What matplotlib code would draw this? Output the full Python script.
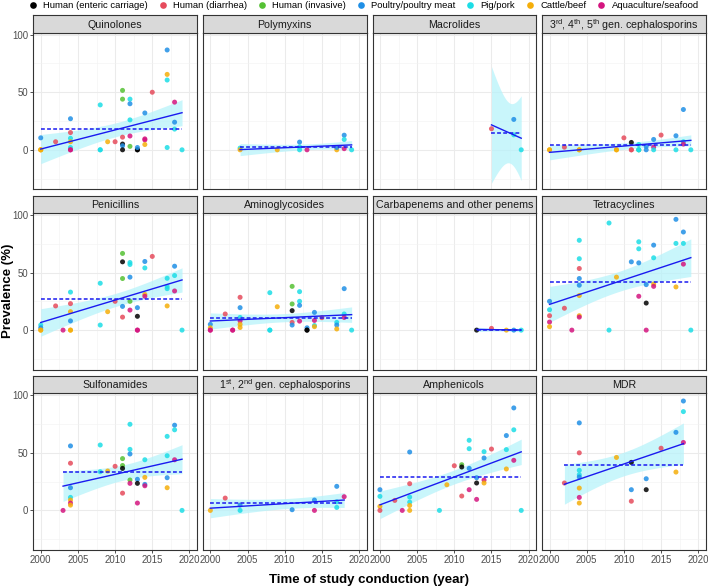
import math
import numpy as np
import matplotlib
matplotlib.use("Agg")
import matplotlib.pyplot as plt
from matplotlib.lines import Line2D

plt.rcParams['font.family'] = ['Liberation Sans', 'DejaVu Sans']
plt.rcParams['mathtext.fontset'] = 'custom'
plt.rcParams['mathtext.rm'] = 'Liberation Sans'

# source groups: E enteric carriage, D diarrhea, I invasive, P poultry, G pig, C cattle, A aquaculture
group_keys = ['E', 'D', 'I', 'P', 'G', 'C', 'A']
group_labels = ['Human (enteric carriage)', 'Human (diarrhea)', 'Human (invasive)',
                'Poultry/poultry meat', 'Pig/pork', 'Cattle/beef', 'Aquaculture/seafood']
group_colors = ['#000000', '#E64B5C', '#55C134', '#1F8FE6', '#1CDDE6', '#F5AE0A', '#D4157F']

panel_titles = ['Quinolones', 'Polymyxins', 'Macrolides',
                r'3$^{\mathrm{rd}}$, 4$^{\mathrm{th}}$, 5$^{\mathrm{th}}$ gen. cephalosporins',
                'Penicillins', 'Aminoglycosides', 'Carbapenems and other penems', 'Tetracyclines',
                'Sulfonamides', r'1$^{\mathrm{st}}$, 2$^{\mathrm{nd}}$ gen. cephalosporins',
                'Amphenicols', 'MDR']

# several studies sit on top of each other at 0 %, so some zeros repeat
quin_year = [2000, 2000, 2000, 2000, 2002, 2004, 2004, 2004, 2004, 2004, 2004, 2004, 2008, 2008, 2008,
             2009, 2010, 2011, 2011, 2011, 2011, 2011, 2011, 2012, 2012, 2012, 2012, 2012, 2013, 2013, 2013,
             2014, 2014, 2014, 2014, 2015, 2017, 2017, 2017, 2017, 2018, 2018, 2018, 2019]
quin_val = [10.4, 0, 0, 0, 7, 27, 15, 10, 7, 2, 0, 0, 39, 0, 0,
            7, 7, 51.6, 44, 11, 5, 3.5, 0, 44, 40, 26, 12, 3, 0, 0, 2,
            32, 9.5, 8.6, 4.6, 50, 86.7, 65.5, 60.6, 2, 41.4, 24, 18, 0]
quin_src = ['P', 'C', 'C', 'C', 'D', 'P', 'D', 'G', 'C', 'G', 'A', 'A', 'G', 'G', 'G',
            'C', 'D', 'I', 'I', 'D', 'E', 'P', 'E', 'G', 'P', 'G', 'A', 'I', 'E', 'E', 'P',
            'P', 'A', 'A', 'C', 'D', 'P', 'C', 'G', 'G', 'A', 'P', 'G', 'G']

poly_year = [2004, 2004, 2009, 2012, 2012, 2012, 2013, 2017, 2017, 2018, 2018, 2018, 2019]
poly_val = [1.5, 0, 0, 6.7, 2.5, 0, 0, 0, 2, 12.7, 9, 1, 0]
poly_src = ['G', 'C', 'C', 'P', 'G', 'G', 'A', 'C', 'P', 'P', 'G', 'A', 'G']

macro_year = [2015, 2018, 2018, 2019]
macro_val = [18.3, 26.4, 13, 0]
macro_src = ['D', 'P', 'G', 'G']

ceph345_year = [2000, 2000, 2002, 2004, 2004, 2009, 2009, 2010, 2011, 2011, 2011, 2012, 2012, 2012, 2012,
                2013, 2013, 2014, 2014, 2014, 2015, 2017, 2017, 2018, 2018, 2018, 2019]
ceph345_val = [0, 0, 2.3, 0, 0, 0, 0, 10.4, 6.4, 0, 0, 4.6, 0, 0, 0,
               3, 0, 9, 2.3, 0, 12.8, 12.2, 0, 35, 7, 5, 0]
ceph345_src = ['C', 'C', 'D', 'C', 'C', 'C', 'C', 'D', 'E', 'D', 'D', 'G', 'I', 'G', 'G',
               'P', 'P', 'P', 'A', 'G', 'D', 'P', 'G', 'P', 'G', 'A', 'G']

pen_year = [2000, 2000, 2000, 2000, 2002, 2003, 2004, 2004, 2004, 2004, 2004, 2004, 2008, 2008, 2009, 2010,
            2011, 2011, 2011, 2011, 2011, 2012, 2012, 2012, 2012, 2012, 2013, 2013, 2013, 2013,
            2014, 2014, 2014, 2014, 2015, 2017, 2017, 2017, 2017, 2018, 2018, 2018, 2019]
pen_val = [4.4, 2, 0, 0, 21, 0, 33, 23, 16, 8, 0, 0, 40.7, 4.4, 16, 25,
           59.3, 66.6, 44.8, 20.6, 11.3, 58.7, 57, 46, 25, 17.4, 19.5, 12, 0, 0,
           59.6, 54, 31, 29.4, 64, 45, 37.8, 36, 21, 55.5, 47.4, 34, 0]
pen_src = ['G', 'P', 'C', 'C', 'D', 'A', 'G', 'D', 'C', 'P', 'C', 'C', 'G', 'G', 'C', 'D',
           'E', 'I', 'I', 'P', 'D', 'G', 'G', 'P', 'I', 'A', 'P', 'E', 'A', 'A',
           'P', 'G', 'C', 'A', 'D', 'G', 'G', 'G', 'C', 'P', 'G', 'A', 'G']

amino_year = [2000, 2000, 2000, 2000, 2002, 2003, 2003, 2004, 2004, 2004, 2004, 2004, 2004,
              2008, 2008, 2008, 2009, 2011, 2011, 2011, 2011, 2011, 2012, 2012, 2012, 2012,
              2013, 2013, 2013, 2014, 2014, 2014, 2014, 2015, 2017, 2017, 2017, 2018, 2018, 2018, 2019]
amino_val = [5, 2, 0, 0, 14, 0, 0, 28.5, 19.5, 11, 8, 5, 2.3,
             32.5, 0, 0, 20.3, 38, 22.7, 16.9, 6.7, 4.4, 33.4, 25, 21.5, 7.8,
             2, 0, 0, 15.4, 8.4, 4, 3, 10.8, 6.7, 4.4, 1, 36, 14, 11, 0]
amino_src = ['P', 'C', 'A', 'A', 'D', 'A', 'A', 'D', 'P', 'G', 'A', 'C', 'C',
             'G', 'G', 'G', 'C', 'I', 'I', 'E', 'D', 'P', 'G', 'G', 'P', 'A',
             'P', 'E', 'E', 'P', 'A', 'G', 'C', 'D', 'G', 'P', 'C', 'P', 'G', 'A', 'G']

carba_year = [2013, 2015, 2017, 2018, 2019]
carba_val = [0, 1.5, 0, 0, 0]
carba_src = ['E', 'D', 'C', 'P', 'G']

tetra_year = [2000, 2000, 2000, 2000, 2000, 2002, 2003, 2004, 2004, 2004, 2004, 2004, 2004, 2004, 2004,
              2008, 2008, 2009, 2011, 2012, 2012, 2012, 2012, 2013, 2013, 2013,
              2014, 2014, 2014, 2014, 2017, 2017, 2017, 2018, 2018, 2018, 2019]
tetra_val = [25, 17.7, 12.5, 7, 3, 19, 0, 78, 62, 53.5, 44.8, 39, 30, 12.5, 11.3,
             93, 0, 46, 59.3, 58.4, 76.7, 70.6, 29.4, 39.5, 23.5, 0,
             73.8, 62.8, 40, 38, 96.2, 75.3, 37.5, 85.2, 75.3, 57.3, 0]
tetra_src = ['P', 'G', 'D', 'A', 'C', 'D', 'A', 'G', 'G', 'D', 'P', 'P', 'C', 'C', 'A',
             'G', 'G', 'C', 'P', 'P', 'G', 'G', 'A', 'P', 'E', 'A',
             'P', 'G', 'C', 'A', 'P', 'G', 'C', 'P', 'G', 'A', 'G']

sulf_year = [2003, 2004, 2004, 2004, 2004, 2004, 2004, 2004, 2008, 2008, 2009, 2010,
             2011, 2011, 2011, 2011, 2012, 2012, 2012, 2012, 2012, 2013, 2013, 2013,
             2014, 2014, 2014, 2014, 2017, 2017, 2017, 2017, 2018, 2018, 2018, 2019]
sulf_val = [0, 56, 41, 19.7, 11.3, 9, 6.4, 4.6, 56.8, 33.6, 34.2, 38.3,
            45, 39, 36.5, 15, 74.8, 53, 49, 26.4, 23.5, 27, 23.5, 6.4,
            44, 28.7, 22.6, 21.4, 64.3, 47.5, 28.4, 19.7, 74, 70, 44, 0]
sulf_src = ['A', 'P', 'D', 'P', 'G', 'C', 'A', 'C', 'G', 'G', 'C', 'D',
            'I', 'I', 'E', 'D', 'G', 'G', 'P', 'I', 'A', 'P', 'E', 'A',
            'G', 'C', 'P', 'A', 'G', 'G', 'P', 'C', 'P', 'G', 'A', 'G']

ceph12_year = [2000, 2002, 2004, 2004, 2011, 2014, 2014, 2017, 2017, 2017, 2018]
ceph12_val = [0, 10.7, 4.6, 0, 0.6, 9, 0, 20.9, 7.5, 2.6, 11.9]
ceph12_src = ['C', 'D', 'P', 'G', 'P', 'P', 'A', 'P', 'G', 'G', 'A']

amph_year = [2000, 2000, 2000, 2000, 2002, 2003, 2004, 2004, 2004, 2004, 2004, 2004, 2008, 2009, 2010,
             2011, 2011, 2011, 2012, 2012, 2012, 2012, 2013, 2013, 2013,
             2014, 2014, 2014, 2014, 2015, 2017, 2017, 2017, 2018, 2018, 2018, 2019]
amph_val = [18, 12.2, 3.5, 0, 8.7, 0, 50.7, 23.2, 11.6, 7.2, 4.3, 0, 0, 22.3, 38.8,
            39.7, 37.7, 12.5, 60.9, 53.6, 36.5, 18, 28.4, 23.8, 9.6,
            51, 45.5, 26.4, 23.8, 53.3, 65, 52.8, 36, 89, 70, 43.5, 0]
amph_src = ['P', 'G', 'C', 'D', 'D', 'A', 'P', 'D', 'G', 'G', 'C', 'C', 'G', 'C', 'D',
            'I', 'E', 'D', 'G', 'G', 'P', 'A', 'P', 'E', 'A',
            'G', 'P', 'A', 'C', 'D', 'P', 'G', 'C', 'P', 'G', 'A', 'G']

mdr_year = [2002, 2004, 2004, 2004, 2004, 2004, 2004, 2004, 2004, 2009, 2011, 2011, 2011,
            2013, 2013, 2015, 2017, 2017, 2018, 2018, 2018]
mdr_val = [23.8, 76, 50, 34.8, 31, 29, 19.4, 11.3, 6.4, 46, 41.7, 18, 8,
           27.5, 18, 54, 67.8, 33.3, 95, 85.8, 59]
mdr_src = ['D', 'P', 'D', 'G', 'G', 'P', 'C', 'A', 'C', 'C', 'E', 'P', 'D',
           'P', 'E', 'D', 'P', 'C', 'P', 'G', 'A']

panels = [(quin_year, quin_val, quin_src), (poly_year, poly_val, poly_src),
          (macro_year, macro_val, macro_src), (ceph345_year, ceph345_val, ceph345_src),
          (pen_year, pen_val, pen_src), (amino_year, amino_val, amino_src),
          (carba_year, carba_val, carba_src), (tetra_year, tetra_val, tetra_src),
          (sulf_year, sulf_val, sulf_src), (ceph12_year, ceph12_val, ceph12_src),
          (amph_year, amph_val, amph_src), (mdr_year, mdr_val, mdr_src)]


def t_975(df):
    # 97.5% quantile of Student t, numerically (no scipy here)
    x = np.linspace(0, 40, 400001)
    c = math.gamma((df + 1) / 2) / (math.sqrt(df * math.pi) * math.gamma(df / 2))
    pdf = c * (1 + x ** 2 / df) ** (-(df + 1) / 2)
    cdf = 0.5 + np.concatenate([[0], np.cumsum((pdf[1:] + pdf[:-1]) / 2 * np.diff(x))])
    return x[np.searchsorted(cdf, 0.975)]


def lm_band(x, y, xs):
    x = np.asarray(x, float)
    y = np.asarray(y, float)
    n = len(x)
    b, a = np.polyfit(x, y, 1)
    fit = a + b * xs
    resid = y - (a + b * x)
    s = math.sqrt(np.sum(resid ** 2) / (n - 2))
    sxx = np.sum((x - x.mean()) ** 2)
    se = s * np.sqrt(1 / n + (xs - x.mean()) ** 2 / sxx)
    t = t_975(n - 2)
    return fit, fit - t * se, fit + t * se


W, H = 708, 588
fig = plt.figure(figsize=(W / 100, H / 100), dpi=100)

left0, pw, step_x = 33.3, 163.6, 169.6
top0, ph, step_y = 32.7, 156.5, 180.3
strip_h = 17.5
color_map = dict(zip(group_keys, group_colors))

for k, (yr, val, src) in enumerate(panels):
    r, c = divmod(k, 4)
    x0 = left0 + c * step_x
    ytop = top0 + r * step_y
    ax = fig.add_axes([x0 / W, 1 - (ytop + ph) / H, pw / W, ph / H])
    sax = fig.add_axes([x0 / W, 1 - ytop / H, pw / W, strip_h / H])
    sax.set_facecolor('#D9D9D9')
    sax.set_xticks([])
    sax.set_yticks([])
    for sp in sax.spines.values():
        sp.set_color('#333333')
        sp.set_linewidth(0.8)
    sax.text(0.5, 0.45, panel_titles[k], ha='center', va='center', fontsize=7.7,
             color='#1A1A1A', transform=sax.transAxes)

    ax.set_xlim(1999, 2021)
    ax.set_ylim(-34.2, 101.7)
    ax.set_xticks([2000, 2005, 2010, 2015, 2020])
    ax.set_xticks([2002.5, 2007.5, 2012.5, 2017.5], minor=True)
    ax.set_yticks([0, 50, 100])
    ax.set_yticks([-25, 25, 75], minor=True)
    ax.grid(True, which='major', color='#EBEBEB', lw=0.75)
    ax.grid(True, which='minor', color='#F2F2F2', lw=0.4)
    ax.set_axisbelow(True)
    for sp in ax.spines.values():
        sp.set_color('#333333')
        sp.set_linewidth(0.8)
    ax.tick_params(which='minor', length=0)
    ax.tick_params(which='major', length=2.2, width=0.6, color='#333333',
                   labelsize=6.9, labelcolor='#4D4D4D', pad=1.5)
    if c != 0:
        ax.tick_params(axis='y', which='major', length=0, labelleft=False)
    if r != 2:
        ax.tick_params(axis='x', which='major', length=0, labelbottom=False)

    xa = np.asarray(yr, float)
    ya = np.asarray(val, float)
    xs = np.linspace(xa.min(), xa.max(), 100)
    fit, lo, hi = lm_band(xa, ya, xs)
    ax.fill_between(xs, lo, hi, color='#B8F3FA', alpha=0.75, lw=0, zorder=1)
    cols = [color_map[s] for s in src]
    ax.scatter(xa, ya, s=13, c=cols, alpha=0.85, linewidths=0, zorder=2)
    ax.plot(xs, fit, color='#1A1AF0', lw=1.0, zorder=3)
    ax.plot([xa.min(), xa.max()], [ya.mean(), ya.mean()], color='#1A1AF0',
            lw=1.1, ls=(0, (2.5, 1.5)), zorder=3)

handles = [Line2D([], [], ls='none', marker='o', ms=4.8, mec='none', mfc=col)
           for col in group_colors]
fig.legend(handles, group_labels, loc='upper center', bbox_to_anchor=(364 / W, 1.006),
           ncol=7, frameon=False, fontsize=6.8, handlelength=0.8, handletextpad=0.7,
           columnspacing=1.15, borderaxespad=0.1)

fig.text(8 / W, 1 - 291 / H, 'Prevalence (%)', rotation=90, ha='center', va='center',
         fontsize=9.5, fontweight='bold')
fig.text(369 / W, 1 - 580 / H, 'Time of study conduction (year)', ha='center', va='center',
         fontsize=9.5, fontweight='bold')

fig.savefig('out.png', dpi=100)
